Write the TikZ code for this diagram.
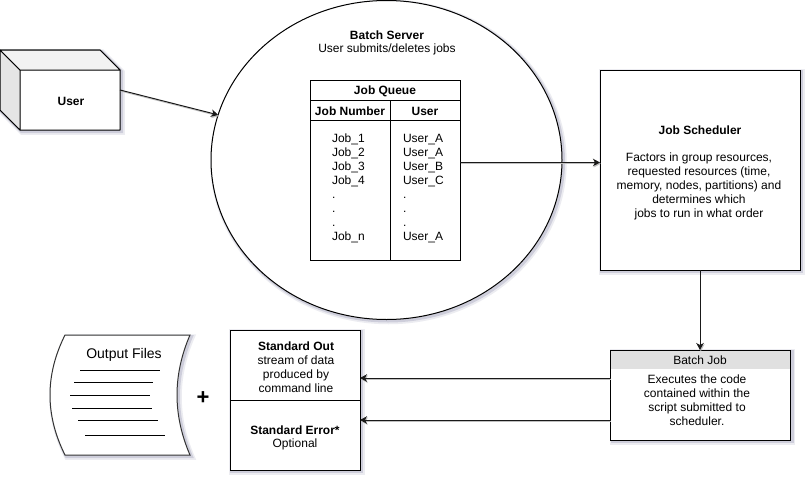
\documentclass[tikz,border=0pt]{standalone}
\usepackage{fontspec}
\setmainfont{Liberation Sans}
\usetikzlibrary{arrows.meta,shapes.geometric}
\definecolor{shadowc}{RGB}{70,75,120}
\tikzset{
  softshadow/.style={
    preaction={draw=shadowc,draw opacity=.10,line width=5.5pt,transform canvas={shift={(2pt,-2pt)}}},
    preaction={draw=shadowc,draw opacity=.18,line width=3pt,transform canvas={shift={(1.5pt,-1.5pt)}}}},
  boxed/.style={draw=black,fill=white,line width=1pt,inner sep=0pt,outer sep=0pt},
  label/.style={inner sep=0pt,outer sep=0pt,align=center,yshift=-1pt,font=\fontsize{12}{14}\selectfont},
  blabel/.style={label,font=\fontsize{12}{14}\selectfont\bfseries},
  link/.style={draw=black!90,line width=1pt,-{Stealth[length=7pt,width=7.5pt,inset=2pt]},
    preaction={draw=black!25,line width=.8pt,transform canvas={shift={(.8pt,-1.2pt)}}}},
  rule/.style={draw=black,line width=1pt},
}
\begin{document}
\begin{tikzpicture}[x=1pt,y=-1pt]
\useasboundingbox (0,0) rectangle (812,482);
\fill[white] (0,0) rectangle (812,482);

% server ellipse
\node[boxed,ellipse,softshadow,minimum width=351pt,minimum height=319pt] (server) at (386.5,160) {};

% user cube
\node[inner sep=0pt,outer sep=0pt,minimum width=120pt,minimum height=80pt] (user) at (60,90) {};
\filldraw[fill=white,draw=black,line width=1pt,line join=round,softshadow]
  (0,50) -- (100,50) -- (120,70) -- (120,130) -- (20,130) -- (0,110) -- cycle;
\filldraw[fill=black!10,draw=black,line width=1pt,line join=round] (0,50) -- (20,70) -- (20,130) -- (0,110) -- cycle;
\filldraw[fill=black!5,draw=black,line width=1pt,line join=round] (0,50) -- (100,50) -- (120,70) -- (20,70) -- cycle;
\node[blabel] (usertext) at (71,100) {User};

% server text
\node[blabel] (servertitle) at (387,34) {Batch Server};
\node[label] (serversub) at (387,48) {User submits/deletes jobs};

% job queue table
\node[boxed,minimum width=150pt,minimum height=180pt] (queue) at (385,170) {};
\draw[rule] (310,100) -- (460,100) (310,120) -- (460,120) (390,100) -- (390,260);
\node[blabel] (queuetitle) at (385,90.5) {Job Queue};
\node[blabel] (colnum) at (350,110.5) {Job Number};
\node[blabel] (coluser) at (425,110.5) {User};
\node[label,align=left,anchor=north west] (jobs) at (332,133) {Job\_1\\Job\_2\\Job\_3\\Job\_4\\.\\.\\.\\Job\_n};
\node[label,align=left,anchor=north west] (users) at (403,133) {\vphantom{b}User\_A\\User\_A\\User\_B\\User\_C\\.\\.\\.\\User\_A};

% scheduler
\node[boxed,softshadow,minimum width=200pt,minimum height=200pt] (sched) at (700,170) {};
\node[blabel] (schedtitle) at (700,129) {Job Scheduler};
\node[label] (schedtext) at (699,185) {Factors in group resources,\\requested resources (time,\\memory, nodes, partitions) and\\determines which\\jobs to run in what order};

% batch job
\node[boxed,softshadow,minimum width=180pt,minimum height=90pt] (batch) at (700.5,395) {};
\fill[black!12] (611,350.5) rectangle (790,369);
\node[label] (batchtitle) at (700,359) {Batch Job};
\node[label] (batchtext) at (697,399) {Executes the code\\contained within the\\script submitted to\\scheduler.};

% standard out/error
\node[boxed,softshadow,minimum width=130pt,minimum height=140pt] (std) at (295,400) {};
\draw[rule] (std.west) -- (std.east);
\node[blabel] (outtitle) at (296,345) {Standard Out};
\node[label] (outtext) at (296,373) {stream of data\\produced by\\command line};
\node[blabel] (errtitle) at (295,429) {Standard Error*};
\node[label] (errtext) at (295,443) {Optional};

% output files
\filldraw[fill=white,draw=black!80,line width=1pt,softshadow]
  (65,335) -- (190,335) .. controls (172.7,375) and (172.7,415) .. (190,455)
  -- (65,455) .. controls (45,415) and (45,375) .. (65,335) -- cycle;
\node[label,font=\fontsize{14}{16}\selectfont] (outfiles) at (124,354) {Output Files};
\draw[rule] (80,370.5) -- (160,370.5) (74,382.5) -- (153,382.5) (70,395) -- (150,395)
  (72,408.5) -- (152,408.5) (78,420.5) -- (158,420.5) (85,435) -- (165,435);
\node[label,font=\fontsize{22}{24}\selectfont\bfseries] (plus) at (203,397) {+};

% connectors
\draw[link] (user.east) -- (server.165.3);
\draw[link] ([yshift=7.5pt]queue.east) -- ([yshift=7.5pt]sched.west);
\draw[link] (sched.south) -- (sched.south |- batch.north);
\draw[link] ([yshift=17pt]batch.west) -- ([yshift=22pt]std.east);
\draw[link] ([yshift=-25pt]batch.west) -- ([yshift=-20pt]std.east);
\end{tikzpicture}
\end{document}
